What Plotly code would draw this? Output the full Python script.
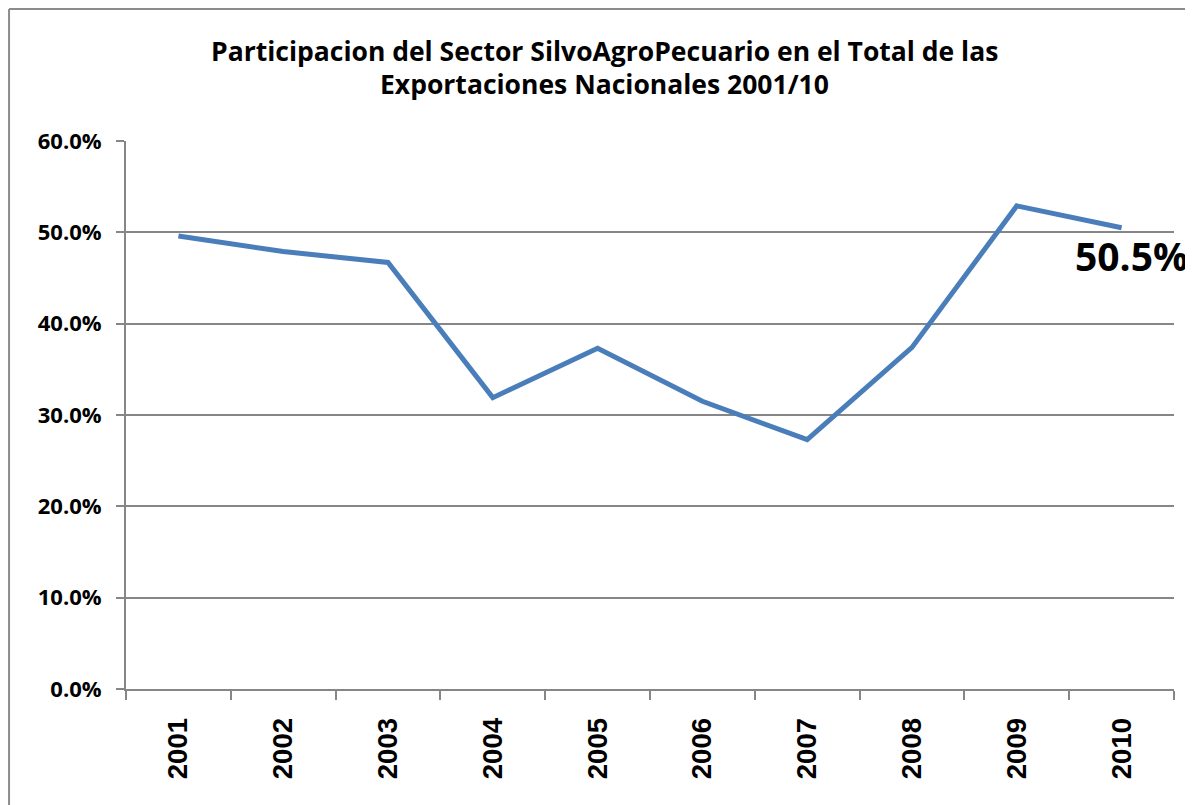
import plotly.graph_objects as go

years = ["2001", "2002", "2003", "2004", "2005", "2006", "2007", "2008", "2009", "2010"]
share = [0.496, 0.479, 0.467, 0.319, 0.373, 0.315, 0.273, 0.374, 0.529, 0.505]
title_lines = ["Participacion del Sector SilvoAgroPecuario en el Total de las",
               "Exportaciones Nacionales 2001/10"]
y_ticks = [0, 0.1, 0.2, 0.3, 0.4, 0.5, 0.6]

LINE = "#4A7EBB"
GRID = "#868686"

fig = go.Figure()
fig.add_trace(go.Scatter(
    x=years, y=share, mode="lines",
    line=dict(color=LINE, width=5),
    showlegend=False, hoverinfo="skip",
))

# data label on last point (category index of last year)
fig.add_annotation(
    x=len(years) - 1, y=share[-1], xref="x", yref="y",
    text="<b>%.1f%%</b>" % (share[-1] * 100), showarrow=False,
    xanchor="center", yanchor="middle", xshift=10, yshift=-28,
    font=dict(family="Open Sans", size=39, color="#000000"),
)

# two-line title
for txt, yp in zip(title_lines, [1.1642, 1.104]):
    fig.add_annotation(
        x=0.457, y=yp, xref="paper", yref="paper",
        text="<b>" + txt + "</b>", showarrow=False,
        xanchor="center", yanchor="middle",
        font=dict(family="Open Sans", size=26.5, color="#000000"),
    )

fig.update_layout(
    width=1185, height=797,
    margin=dict(l=118, r=19, t=133, b=116),
    paper_bgcolor="white", plot_bgcolor="white",
    shapes=[
        dict(type="line", xref="paper", yref="paper",
             x0=-0.1116, x1=1.1, y0=1.2409, y1=1.2409,
             line=dict(color="#8C8C8C", width=2)),
        dict(type="line", xref="paper", yref="paper",
             x0=-0.1116, x1=-0.1116, y0=1.2409, y1=-0.3,
             line=dict(color="#8C8C8C", width=2)),
    ],
)

fig.update_xaxes(
    type="category", categoryorder="array", categoryarray=years,
    showline=True, linecolor=GRID, linewidth=2,
    showgrid=False, ticks="outside", ticklen=9, tickwidth=2, tickcolor=GRID,
    tickson="boundaries", tickangle=-90, ticklabelstandoff=16,
    tickfont=dict(family="Liberation Sans", size=27.5, color="#000000", weight="bold"),
    range=[-0.5, 9.5], fixedrange=True,
)
fig.update_yaxes(
    range=[0, 0.6], tickvals=y_ticks, tickformat=".1%",
    showline=True, linecolor=GRID, linewidth=2,
    showgrid=True, gridcolor=GRID, gridwidth=2,
    zeroline=False,
    ticks="outside", ticklen=8, tickwidth=2, tickcolor=GRID,
    ticklabelstandoff=10,
    tickfont=dict(family="Open Sans", size=22, color="#000000", weight="bold"),
    fixedrange=True,
)

fig.write_html("out.html")
